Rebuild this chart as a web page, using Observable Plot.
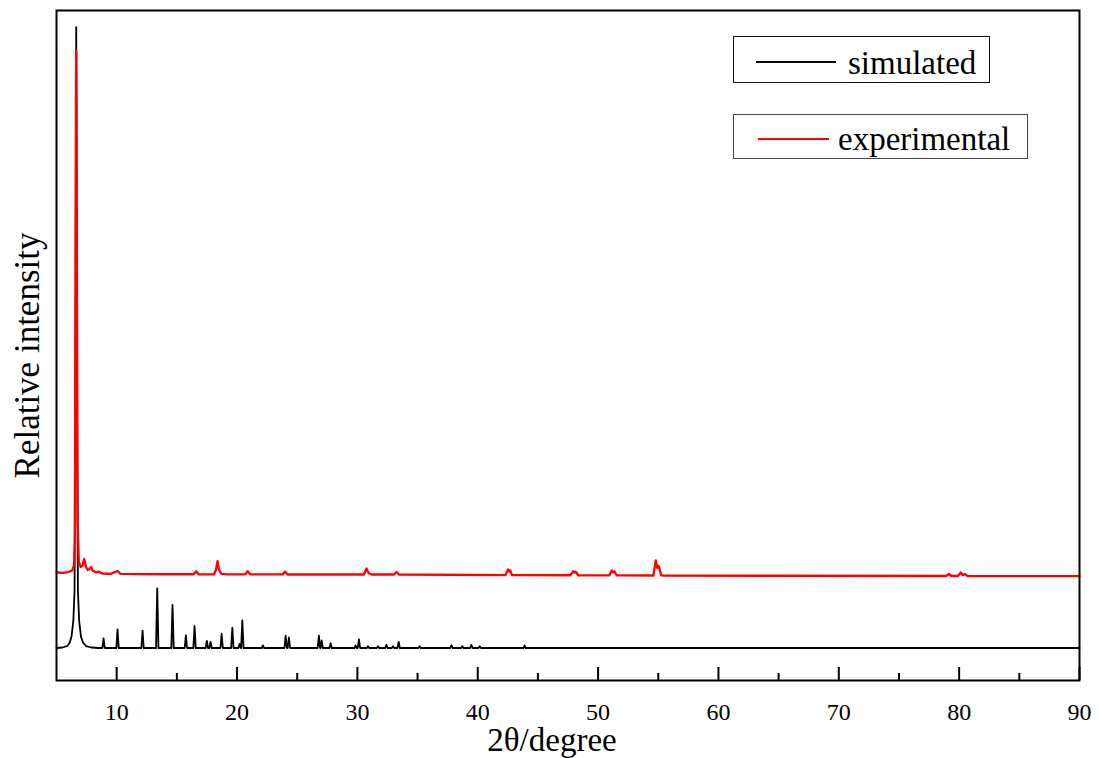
<!DOCTYPE html>
<html>
<head>
<meta charset="utf-8">
<script src="https://cdn.jsdelivr.net/npm/d3@7"></script>
<script src="https://cdn.jsdelivr.net/npm/@observablehq/plot@0.6"></script>
<style>
  html, body { margin: 0; padding: 0; background: #fff; overflow: hidden; }
  #wrap { position: relative; width: 1099px; height: 758px; font-family: "Liberation Serif", "Times New Roman", serif; }
  .lbox { position: absolute; box-sizing: border-box; border: 1.5px solid #222; background: #fff; }
  .lline { position: absolute; height: 2px; }
  .ltext { position: absolute; font-size: 33px; line-height: 1; white-space: nowrap; color: #000; }
</style>
</head>
<body>
<div id="wrap"></div>
<script>
// ---- Data (2θ in degrees, intensity in relative units; simulated baseline = 0, simulated max = 100) ----
const xTicksMajor = [10, 20, 30, 40, 50, 60, 70, 80, 90];
const xTicksMinor = [15, 25, 35, 45, 55, 65, 75, 85];

// simulated: strongest reflection profile
const simMainX = [5, 5.5, 5.9, 6.1, 6.25, 6.4, 6.5, 6.56, 6.6, 6.64, 6.68, 6.72, 6.78, 6.88, 7.03, 7.2, 7.45, 7.9, 8.5];
const simMainY = [0, 0.08, 0.32, 0.89, 1.85, 4.43, 9.26, 31.8, 72.1, 100, 72.1, 31.8, 9.26, 4.43, 1.85, 0.89, 0.32, 0.08, 0];

// simulated: other reflections (position, height)
const simPeakPos = [8.91, 10.07, 12.15, 13.37, 14.64, 15.75, 16.47, 17.49, 17.80, 18.72, 19.61, 20.21, 20.44, 22.15, 24.04, 24.31, 26.80, 27.03, 27.78, 29.85, 30.13, 30.88, 31.71, 32.41, 32.96, 33.43, 35.17, 37.81, 38.72, 39.47, 40.16, 43.90];
const simPeakHeight = [1.56, 3.01, 2.79, 9.62, 6.93, 2.03, 3.54, 1.13, 0.97, 2.26, 3.27, 0.64, 4.46, 0.42, 1.98, 1.69, 1.98, 1.21, 0.76, 0.4, 1.40, 0.3, 0.3, 0.5, 0.3, 1.0, 0.3, 0.45, 0.3, 0.5, 0.3, 0.4];
const simEnd = [90, 0];

// experimental trace (offset above the simulated one)
const expX = [5.0, 5.5, 6.0, 6.3, 6.45, 6.52, 6.58, 6.62, 6.64, 6.66, 6.70, 6.76, 6.85, 7.0, 7.15, 7.3, 7.45, 7.6, 7.75, 7.88, 8.0, 8.3, 8.5, 8.8, 9.5, 10.07, 10.3, 12, 14, 16.4, 16.61, 16.8, 18.1, 18.25, 18.38, 18.5, 18.7, 19.2, 20.7, 20.88, 21.1, 23.8, 23.98, 24.2, 30.55, 30.76, 30.95, 31.2, 33.05, 33.24, 33.45, 42.3, 42.52, 42.62, 42.7, 42.85, 47.7, 47.92, 48.05, 48.15, 48.35, 50.95, 51.13, 51.25, 51.35, 51.55, 54.6, 54.79, 54.92, 55.04, 55.25, 55.5, 78.9, 79.15, 79.35, 79.9, 80.13, 80.3, 80.5, 80.7, 90];
const expY = [12.16, 12.11, 12.24, 12.48, 13.29, 17.31, 55.98, 88.2, 96.26, 88.2, 55.98, 20.54, 14.01, 13.05, 13.2, 14.33, 13.05, 12.56, 12.72, 13.05, 12.48, 12.16, 12.3, 12.0, 11.95, 12.4, 11.95, 11.9, 11.88, 11.88, 12.35, 11.88, 11.85, 12.6, 14.0, 12.6, 11.95, 11.85, 11.85, 12.35, 11.85, 11.85, 12.3, 11.84, 11.84, 12.8, 12.05, 11.84, 11.84, 12.25, 11.84, 11.75, 12.65, 12.3, 12.5, 11.75, 11.72, 12.36, 12.15, 12.3, 11.72, 11.7, 12.5, 12.2, 12.35, 11.7, 11.68, 14.1, 12.9, 13.2, 11.7, 11.66, 11.6, 11.92, 11.6, 11.6, 12.15, 11.75, 11.9, 11.58, 11.57];

const seriesNames = ["simulated", "experimental"];
const seriesColors = ["#000000", "#ff0000"];

// ---- build line tables ----
const simData = simMainX.map((x, i) => ({x, y: simMainY[i]}));
const hw = 0.1;
simPeakPos.forEach((p, i) => {
  simData.push({x: p - hw, y: 0}, {x: p, y: simPeakHeight[i]}, {x: p + hw, y: 0});
});
simData.push({x: simEnd[0], y: simEnd[1]});
const expData = expX.map((x, i) => ({x, y: expY[i]}));

const chart = Plot.plot({
  width: 1099,
  height: 758,
  marginLeft: 56,
  marginRight: 20,
  marginTop: 10,
  marginBottom: 78,
  x: {domain: [5, 90]},
  y: {domain: [-5.235, 102.69], axis: null},
  style: {fontFamily: "'Liberation Serif', 'Times New Roman', serif", background: "#fff", color: "#000", overflow: "visible"},
  marks: [
    Plot.line(simData, {x: "x", y: "y", stroke: seriesColors[0], strokeWidth: 1.8}),
    Plot.line(expData, {x: "x", y: "y", stroke: seriesColors[1], strokeWidth: 2.3}),
    Plot.frame({stroke: "#000", strokeWidth: 2}),
    Plot.axisX(xTicksMajor, {tickSize: -13, tickFormat: () => "", strokeWidth: 2, label: null}),
    Plot.axisX(xTicksMinor, {tickSize: -7, tickFormat: () => "", strokeWidth: 2, label: null}),
    Plot.axisX(xTicksMajor, {tickSize: 0, tickPadding: 22, fontSize: 24, label: null}),
    Plot.text(["2θ/degree"], {text: d => d, frameAnchor: "bottom", dx: -16, dy: 60, fontSize: 33, lineAnchor: "middle"}),
    Plot.text(["Relative intensity"], {text: d => d, frameAnchor: "left", rotate: -90, dx: -29, dy: 10, fontSize: 35, lineAnchor: "middle", textAnchor: "middle"})
  ]
});

const wrap = document.getElementById("wrap");
wrap.appendChild(chart);

// ---- legend (two separate boxed entries, as in the original) ----
const legendLayout = [
  {box: [733, 36, 257, 47], line: [756, 61, 80], text: [848, 46.5], border: "#111"},
  {box: [733, 114, 295, 45], line: [758, 137.5, 71], text: [838, 123], border: "#444"}
];
seriesNames.forEach((name, i) => {
  const L = legendLayout[i];
  const b = document.createElement("div");
  b.className = "lbox";
  Object.assign(b.style, {left: L.box[0] + "px", top: L.box[1] + "px", width: L.box[2] + "px", height: L.box[3] + "px", borderColor: L.border});
  wrap.appendChild(b);
  const l = document.createElement("div");
  l.className = "lline";
  Object.assign(l.style, {left: L.line[0] + "px", top: L.line[1] + "px", width: L.line[2] + "px", background: seriesColors[i]});
  wrap.appendChild(l);
  const t = document.createElement("div");
  t.className = "ltext";
  t.textContent = name;
  Object.assign(t.style, {left: L.text[0] + "px", top: L.text[1] + "px"});
  wrap.appendChild(t);
});
</script>
</body>
</html>
